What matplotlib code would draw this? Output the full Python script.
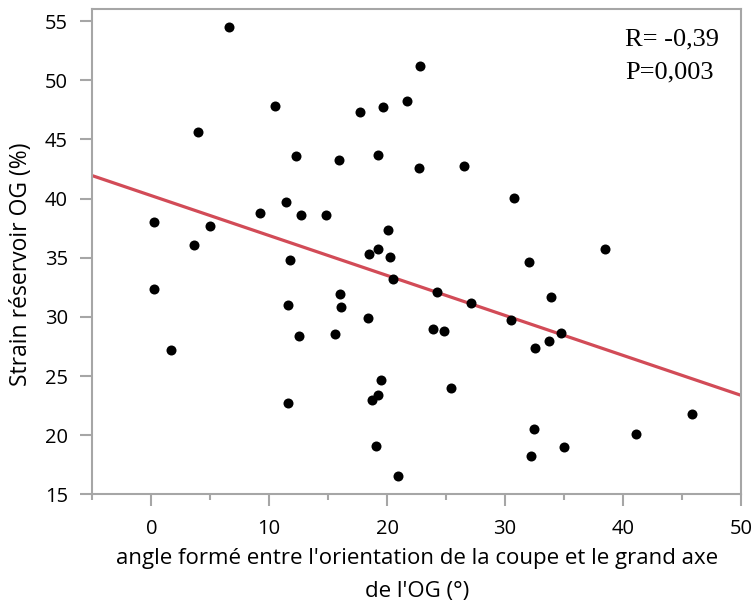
import numpy as np
import matplotlib
matplotlib.use("Agg")
import matplotlib.pyplot as plt
from matplotlib.ticker import MultipleLocator

plt.rcParams['font.family'] = ['Open Sans', 'DejaVu Sans']

# angle between slice orientation and long axis (deg) vs reservoir strain (%)
angle = [6.59, 22.77, 10.50, 17.66, 19.65, 21.72, 3.94, 12.29, 15.90, 19.22,
         22.68, 26.52, 30.78, 38.44, 0.26, 3.66, 4.97, 9.26, 11.39, 12.69,
         14.85, 20.08, 18.43, 19.25, 20.22, 11.73, 20.53, 16.00, 16.09, 11.61,
         18.34, 12.55, 15.56, 19.48, 19.19, 18.71, 11.56, 19.05, 20.95, 0.20,
         1.64, 24.21, 27.09, 23.88, 24.82, 25.38, 30.47, 32.00, 33.90, 34.70,
         33.76, 32.54, 32.43, 32.20, 34.98, 41.08, 45.85]
strain = [54.5, 51.17, 47.79, 47.29, 47.71, 48.25, 45.6, 43.63, 43.27, 43.69,
          42.56, 42.73, 40.03, 35.76, 37.98, 36.1, 37.64, 38.80, 39.69, 38.63,
          38.63, 37.33, 35.34, 35.7, 35.05, 34.77, 33.19, 31.9, 30.83, 31.03,
          29.94, 28.38, 28.53, 24.7, 23.4, 22.96, 22.68, 19.1, 16.52, 32.38,
          27.18, 32.07, 31.2, 28.97, 28.81, 23.97, 29.77, 34.63, 31.71, 28.67,
          28.0, 27.37, 20.49, 18.23, 19.02, 20.12, 21.78]
r_text = "R= -0,39"
p_text = "P=0,003"

x = np.array(angle)
y = np.array(strain)
slope, intercept = np.polyfit(x, y, 1)

fig = plt.figure(figsize=(7.51, 6.05), dpi=100)
ax = fig.add_axes([0.1229, 0.183, 0.8638, 0.8016])

grey = '#a6a6a6'
xs = np.array([-5, 50])
ax.plot(xs, intercept + slope * xs, color='#d24b57', lw=2.3, zorder=2)
ax.scatter(x, y, s=52, color='black', zorder=3, linewidths=0)

ax.set_xlim(-5, 50)
ax.set_ylim(15, 56)
ax.xaxis.set_major_locator(MultipleLocator(10))
ax.xaxis.set_minor_locator(MultipleLocator(5))
ax.yaxis.set_major_locator(MultipleLocator(5))

for s in ax.spines.values():
    s.set_color(grey)
    s.set_linewidth(1.5)
ax.tick_params(which='major', direction='out', length=8.5, width=1.5,
               color=grey, labelsize=14.5, pad=9)
ax.tick_params(axis='x', which='minor', direction='out', length=4.5,
               width=1.5, color=grey)

ax.set_xlabel("angle formé entre l'orientation de la coupe et le grand axe\nde l'OG (°)",
              fontsize=16, linespacing=1.7, labelpad=7)
ax.set_ylabel("Strain réservoir OG (%)", fontsize=16.5)
ax.yaxis.set_label_coords(-0.092, 0.474)

# correlation stats, top right corner
ax.text(0.821, 0.937, r_text, transform=ax.transAxes, family='Liberation Serif',
        fontsize=19, va='center', ha='left')
ax.text(0.821, 0.869, p_text, transform=ax.transAxes, family='Liberation Serif',
        fontsize=19, va='center', ha='left')

fig.savefig("out.png", dpi=100)
